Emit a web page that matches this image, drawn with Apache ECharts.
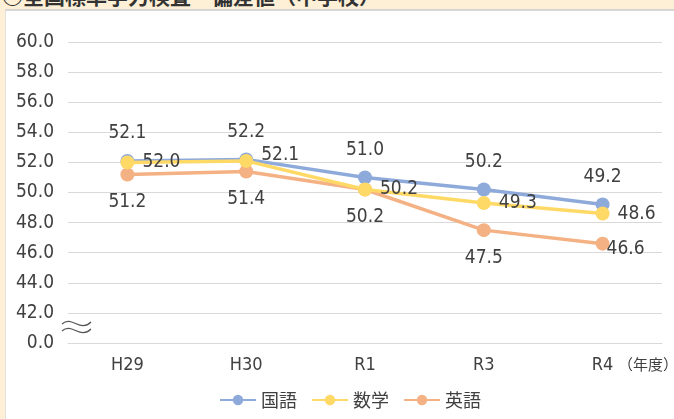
<!DOCTYPE html>
<html>
<head>
<meta charset="utf-8">
<script src="https://cdn.jsdelivr.net/npm/echarts@6/dist/echarts.min.js"></script>
<style>
    body {margin: 0; background: #fdf0d6; width: 674px; height: 419px; overflow: hidden; position: relative;}
    .ttl {position: absolute; left: 2px; top: -20px; font: bold 21px "Noto Sans CJK JP"; color: #333; white-space: nowrap;}
    .panel {position: absolute; left: 5px; top: 9px; right: 0; bottom: 0; background: #fff; border-top: 2px solid #d6d6d6; border-left: 1px solid #e0e0e0;}
    #main {position: absolute; left: 0; top: 0; width: 674px; height: 419px;}
</style>
</head>
<body>
<div class="ttl">○全国標準学力検査・偏差値（中学校）</div>
<div class="panel"></div>
<div id="main"></div>
<script>
    // 年度
    var years = ['H29', 'H30', 'R1', 'R3', 'R4'];
    // 偏差値
    var kokugo = [52.1, 52.2, 51.0, 50.2, 49.2];
    var sugaku = [52.0, 52.1, 50.2, 49.3, 48.6];
    var eigo = [51.2, 51.4, 50.2, 47.5, 46.6];

    var font = '"Liberation Sans Narrow", "DejaVu Sans Condensed", "Noto Sans CJK JP"';
    var jfont = '"Noto Sans CJK JP"';
    var txt = '#404040';

    function fmt(p) { return p.value.toFixed(1); }

    function lbl(pos, dist) {
        return {
            show: true,
            position: pos,
            distance: dist,
            color: txt,
            fontFamily: font,
            fontSize: 19,
            formatter: fmt
        };
    }

    function line(name, data, color, label, z) {
        return {
            name: name,
            type: 'line',
            data: data,
            z: z,
            symbol: 'circle',
            symbolSize: 14,
            lineStyle: {width: 3.5, color: color},
            itemStyle: {color: color},
            label: label
        };
    }

    var myChart = echarts.init(document.getElementById('main'));
    myChart.setOption({
        animation: false,
        grid: {left: 68, right: 12, top: 42, bottom: 76},
        legend: {
            bottom: 5,
            left: 214,
            itemGap: 14,
            itemWidth: 36,
            itemHeight: 13,
            textStyle: {color: txt, fontFamily: jfont, fontSize: 18},
            data: ['国語', '数学', '英語']
        },
        xAxis: {
            type: 'category',
            data: years,
            axisLine: {show: true, lineStyle: {color: '#d9d9d9'}},
            axisTick: {show: false},
            axisLabel: {color: txt, fontFamily: font, fontSize: 18, margin: 13}
        },
        yAxis: {
            type: 'value',
            min: 40,
            max: 60,
            interval: 2,
            axisLine: {show: false},
            axisTick: {show: false},
            splitLine: {lineStyle: {color: '#d9d9d9'}},
            axisLabel: {
                color: txt, fontFamily: font, fontSize: 19, margin: 14,
                // 波線の下は0.0
                formatter: function (v) { return v === 40 ? '0.0' : v.toFixed(1); }
            }
        },
        graphic: [
            {type: 'text', left: 618, top: 357, style: {text: '（年度）', fill: txt, font: '15px ' + jfont}},
            // 省略記号
            {type: 'bezierCurve', shape: {x1: 62, y1: 324, cpx1: 72, cpy1: 315, cpx2: 80, cpy2: 333, x2: 91, y2: 322}, style: {stroke: '#555', lineWidth: 1.2, fill: null}},
            {type: 'bezierCurve', shape: {x1: 62, y1: 331, cpx1: 72, cpy1: 322, cpx2: 80, cpy2: 340, x2: 91, y2: 329}, style: {stroke: '#555', lineWidth: 1.2, fill: null}}
        ],
        series: [
            line('国語', kokugo, '#8eaadb', lbl('top', 11), 3),
            line('数学', sugaku, '#ffd966', lbl('right', 8), 4),
            line('英語', eigo, '#f4b183', lbl('bottom', 11), 2)
        ]
    });

    // 個別のラベル位置
    myChart.setOption({
        series: [{}, {
            data: [
                sugaku[0],
                {value: sugaku[1], label: {offset: [0, -6]}},
                sugaku[2], sugaku[3], sugaku[4]
            ]
        }, {
            data: [
                eigo[0], eigo[1], eigo[2], eigo[3],
                {value: eigo[4], label: {position: 'right', distance: -3, offset: [0, 5]}}
            ]
        }]
    });
</script>
</body>
</html>
